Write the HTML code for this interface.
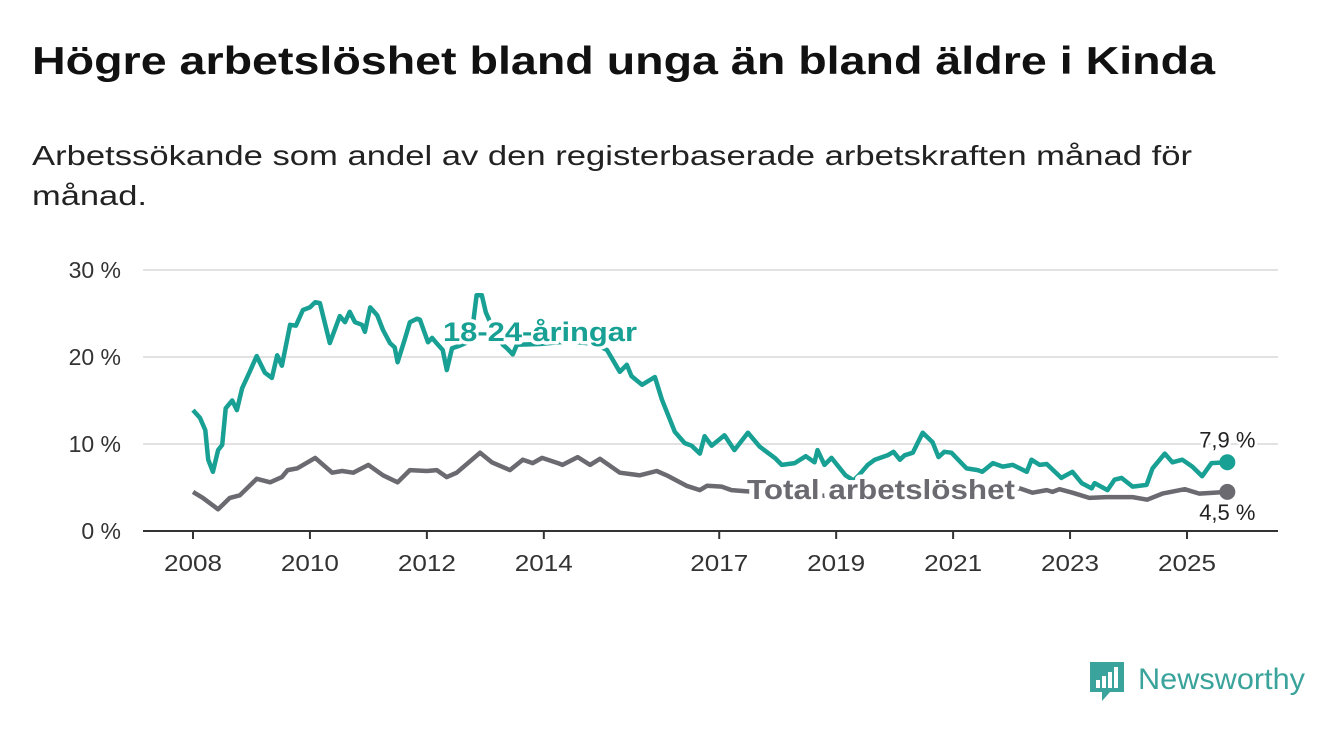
<!DOCTYPE html>
<html><head><meta charset="utf-8"><style>
body{margin:0;background:#fff;width:1340px;height:734px;overflow:hidden;font-family:"Liberation Sans",sans-serif}
svg{display:block}
</style></head><body>
<svg width="1340" height="734" viewBox="0 0 1340 734" id="svg">
<text x="32" y="74" font-size="39" font-weight="bold" fill="#111" textLength="1183" lengthAdjust="spacingAndGlyphs">Högre arbetslöshet bland unga än bland äldre i Kinda</text>
<text x="32" y="165" font-size="28" fill="#222"><tspan x="32" textLength="1160" lengthAdjust="spacingAndGlyphs">Arbetssökande som andel av den registerbaserade arbetskraften månad för</tspan><tspan x="32" dy="40" textLength="115" lengthAdjust="spacingAndGlyphs">månad.</tspan></text>
<g id="grid"></g><g id="lines"></g><g id="labels"></g>
<g>
<path d="M1090 662h34v30h-14l-8 9v-9h-12z" fill="#3aa39b"/>
<rect x="1096" y="680" width="4" height="8" fill="#fff"/><rect x="1102" y="676" width="4" height="12" fill="#fff"/><rect x="1108" y="672" width="4" height="16" fill="#fff"/><rect x="1114" y="667" width="4" height="21" fill="#fff"/>
<text x="1138" y="689" font-size="30" fill="#3aa39b" textLength="167" lengthAdjust="spacingAndGlyphs">Newsworthy</text>
</g>
</svg>
<script>
const yTicks=[0,10,20,30];
const yTickLabels=["0 %","10 %","20 %","30 %"];
const xTicks=[2008,2010,2012,2014,2017,2019,2021,2023,2025];
const youthDates=[2008.00,2008.12,2008.21,2008.26,2008.34,2008.43,2008.50,2008.56,2008.67,2008.75,2008.84,2008.97,2009.09,2009.23,2009.35,2009.44,2009.52,2009.66,2009.76,2009.88,2010.00,2010.09,2010.17,2010.34,2010.51,2010.60,2010.68,2010.77,2010.89,2010.94,2011.03,2011.15,2011.25,2011.37,2011.45,2011.50,2011.62,2011.71,2011.83,2011.88,2012.02,2012.09,2012.19,2012.27,2012.34,2012.43,2012.56,2012.70,2012.79,2012.85,2012.94,2013.01,2013.15,2013.30,2013.37,2013.47,2013.54,2013.93,2014.44,2014.87,2015.08,2015.30,2015.42,2015.50,2015.68,2015.90,2016.02,2016.24,2016.41,2016.53,2016.67,2016.75,2016.87,2017.09,2017.26,2017.49,2017.69,2017.95,2018.07,2018.29,2018.48,2018.63,2018.68,2018.80,2018.92,2019.16,2019.30,2019.40,2019.54,2019.66,2019.88,2019.98,2020.09,2020.17,2020.31,2020.48,2020.65,2020.75,2020.85,2020.97,2021.23,2021.42,2021.50,2021.68,2021.85,2022.02,2022.26,2022.34,2022.48,2022.60,2022.85,2023.04,2023.20,2023.37,2023.42,2023.64,2023.76,2023.88,2024.07,2024.31,2024.41,2024.62,2024.75,2024.92,2025.09,2025.26,2025.42,2025.69];
const youthValues=[13.9,13,11.6,8.2,6.8,9.3,9.9,14.1,15,13.9,16.4,18.3,20.1,18.2,17.6,20.2,19,23.7,23.6,25.4,25.7,26.3,26.2,21.6,24.7,24,25.2,24,23.7,22.9,25.7,24.8,23.1,21.6,21.1,19.4,22,24,24.4,24.3,21.7,22.2,21.4,20.8,18.5,21,21.3,21.7,23.9,27.1,27.1,25.1,23,21.4,21,20.3,21.4,21.5,21.8,21.5,20.8,18.3,19.1,17.8,16.8,17.7,15.1,11.4,10.1,9.8,8.9,10.9,9.8,11,9.3,11.3,9.7,8.4,7.6,7.8,8.6,7.9,9.3,7.6,8.4,6.4,5.8,6.5,7.6,8.2,8.7,9.1,8.2,8.7,9,11.3,10.2,8.5,9.1,9,7.2,7,6.8,7.8,7.4,7.6,6.8,8.2,7.6,7.7,6.1,6.8,5.5,4.9,5.5,4.7,5.9,6.1,5.1,5.3,7.2,8.9,7.9,8.2,7.4,6.3,7.8,7.9];
const totalDates=[2008.00,2008.17,2008.43,2008.63,2008.80,2009.09,2009.32,2009.52,2009.62,2009.78,2010.09,2010.38,2010.55,2010.74,2011.00,2011.25,2011.50,2011.71,2012.00,2012.17,2012.34,2012.51,2012.91,2013.11,2013.42,2013.64,2013.81,2013.97,2014.24,2014.32,2014.58,2014.79,2014.96,2015.30,2015.64,2015.93,2016.10,2016.44,2016.67,2016.79,2017.04,2017.21,2017.40,2018.00,2019.00,2020.00,2020.50,2021.50,2022.14,2022.36,2022.60,2022.70,2022.82,2023.04,2023.33,2023.62,2024.07,2024.32,2024.58,2024.96,2025.21,2025.69];
const totalValues=[4.5,3.8,2.5,3.8,4.1,6.0,5.6,6.2,7.0,7.2,8.4,6.7,6.9,6.7,7.6,6.4,5.6,7.0,6.9,7.0,6.2,6.7,9.0,7.9,7.0,8.2,7.8,8.4,7.8,7.6,8.5,7.6,8.3,6.7,6.4,6.9,6.4,5.2,4.7,5.2,5.1,4.7,4.6,4.3,4.0,4.1,5.0,4.6,4.9,4.4,4.7,4.5,4.8,4.4,3.8,3.9,3.9,3.6,4.3,4.8,4.3,4.5];
const youthLastLabel="7,9 %", totalLastLabel="4,5 %";

const NS="http://www.w3.org/2000/svg";
const x=yr=>193+(yr-2008)*58.47;
const y=v=>531-v*8.7;
function mk(tag,attrs,parent,text){const e=document.createElementNS(NS,tag);for(const k in attrs)e.setAttribute(k,attrs[k]);if(text!==undefined)e.textContent=text;parent.appendChild(e);return e;}
const grid=document.getElementById('grid'),lines=document.getElementById('lines'),labels=document.getElementById('labels');
yTicks.forEach((t,i)=>{
  if(t>0){const g=mk('line',{x1:143,x2:1278,y1:y(t),y2:y(t),stroke:'#d9d9d9','stroke-width':1.5},grid);
  
  }
  const l=mk('text',{x:121,y:y(t)+8,'text-anchor':'end','font-size':23,fill:'#333'},grid,yTickLabels[i]);
  
  
});
const ax=mk('line',{x1:143,x2:1278,y1:531,y2:531,stroke:'#333','stroke-width':2},grid);


xTicks.forEach(t=>{
  const tk=mk('line',{x1:x(t),x2:x(t),y1:531,y2:539,stroke:'#333','stroke-width':2},grid);
  
  
  const l=mk('text',{x:x(t),y:571,'text-anchor':'middle','font-size':23,fill:'#333',textLength:58,lengthAdjust:'spacingAndGlyphs'},grid,String(t));
  
  
});
function series(dates,vals,color,name){
  const d=dates.map((t,i)=>(i?'L':'M')+x(t).toFixed(1)+' '+y(vals[i]).toFixed(1)).join('');
  const p=mk('path',{d:d,fill:'none',stroke:color,'stroke-width':4.5,'stroke-linejoin':'round'},lines);
  
  
  const n=dates.length-1;
  const c=mk('circle',{cx:x(dates[n]),cy:y(vals[n]),r:8,fill:color},lines);
  
  
  return [x(dates[n]),y(vals[n])];
}
const ge=series(totalDates,totalValues,'#6b6a70','total');
const ye=series(youthDates,youthValues,'#17a093','youth');
function lbl(xx,yy,txt,attrs,name,sw){const e=mk('text',Object.assign({x:xx,y:yy,stroke:'#fff','stroke-width':sw,'paint-order':'stroke','stroke-linejoin':'round'},attrs),labels,txt);
  
  }
lbl(443,341,'18-24-åringar',{'font-size':27,'font-weight':'bold',fill:'#17a093',textLength:194,lengthAdjust:'spacingAndGlyphs'},'youth-series-label',7);
lbl(747,499,'Total arbetslöshet',{'font-size':28,'font-weight':'bold',fill:'#6b6a70',textLength:268,lengthAdjust:'spacingAndGlyphs'},'total-series-label',9);
lbl(ye[0],ye[1]-15,youthLastLabel,{'text-anchor':'middle','font-size':22,fill:'#222'},'youth-last-value',5);
lbl(ge[0],ge[1]+28,totalLastLabel,{'text-anchor':'middle','font-size':22,fill:'#222'},'total-last-value',5);
</script>
</body></html>
